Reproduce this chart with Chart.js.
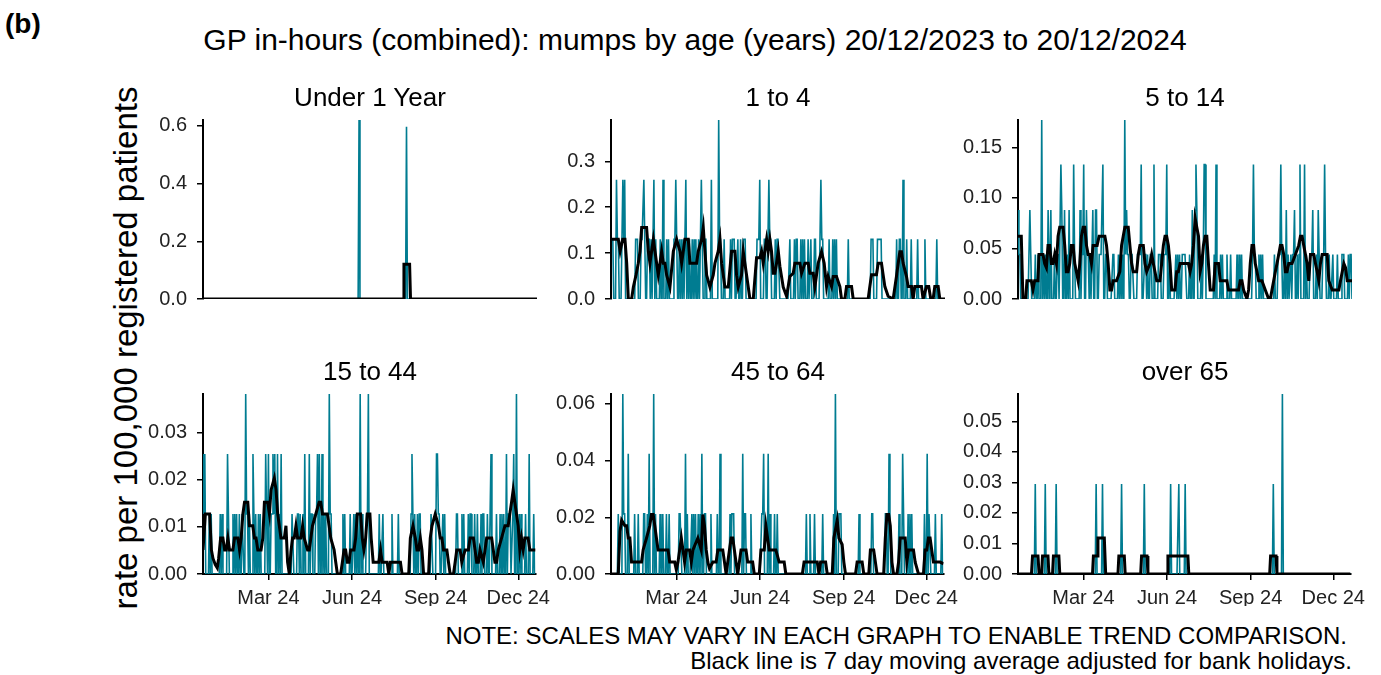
<!DOCTYPE html>
<html><head><meta charset="utf-8">
<script src="https://cdn.jsdelivr.net/npm/chart.js"></script>
<style>
html,body{margin:0;padding:0;background:#fff;}
body{width:1381px;height:675px;position:relative;overflow:hidden;font-family:"Liberation Sans",Arial,sans-serif;color:#000;}
.t{position:absolute;white-space:nowrap;line-height:1;}
canvas{position:absolute;}
</style></head><body>
<div class="t" style="left:5px;top:10px;font-size:28px;font-weight:bold;">(b)</div>
<div class="t" style="left:695px;top:40px;font-size:30px;transform:translate(-50%,-50%);">GP in-hours (combined): mumps by age (years) 20/12/2023 to 20/12/2024</div>
<div class="t" style="left:125px;top:348px;font-size:33px;transform:translate(-50%,-50%) rotate(-90deg);">rate per 100,000 registered patients</div>
<div class="t" style="right:34px;top:636px;font-size:24px;transform:translateY(-50%);">NOTE: SCALES MAY VARY IN EACH GRAPH TO ENABLE TREND COMPARISON.</div>
<div class="t" style="right:29px;top:661px;font-size:24px;transform:translateY(-50%);">Black line is 7 day moving average adjusted for bank holidays.</div>
<script>
// Daily series start 20/12/2023 (day 0) and end 20/12/2024 (day 366)
const xTickDays = [72, 164, 256, 347];
const xTickLabels = ['Mar 24', 'Jun 24', 'Sep 24', 'Dec 24'];
const panelTitles = ['Under 1 Year', '1 to 4', '5 to 14', '15 to 44', '45 to 64', 'over 65'];

const rateUnder1 = [
0,0,0,0,0,0,0, 0,0,0,0,0,0,0, 0,0,0,0,0,0,0, 0,0,0,0,0,0,0, 0,0,0,0,0,0,0,
0,0,0,0,0,0,0, 0,0,0,0,0,0,0, 0,0,0,0,0,0,0, 0,0,0,0,0,0,0, 0,0,0,0,0,0,0,
0,0,0,0,0,0,0, 0,0,0,0,0,0,0, 0,0,0,0,0,0,0, 0,0,0,0,0,0,0, 0,0,0,0,0,0,0,
0,0,0,0,0,0,0, 0,0,0,0,0,0,0, 0,0,0,0,0,0,0, 0,0,0,0,0,0,0, 0,0,0,0,0,0,0,
0,0,0,0,0,0,0, 0,0,0,0,0,0,0, 0,0,0,0,0,0,0, 0,0,0,0,0,0,0,
0,0,0,.62,0,0,0,
0,0,0,0,0,0,0, 0,0,0,0,0,0,0, 0,0,0,0,0,0,0, 0,0,0,0,0,0,0, 0,0,0,0,0,0,0, 0,0,0,0,0,0,0,
0,0,0,0,0,0,.597,
0,0,0,0,0,0,0, 0,0,0,0,0,0,0, 0,0,0,0,0,0,0, 0,0,0,0,0,0,0, 0,0,0,0,0,0,0,
0,0,0,0,0,0,0, 0,0,0,0,0,0,0, 0,0,0,0,0,0,0, 0,0,0,0,0,0,0, 0,0,0,0,0,0,0,
0,0,0,0,0,0,0, 0,0,0,0,0,0,0, 0,0,0,0,0,0,0, 0,0,0,0,0,0,0, 0,0,0,0,0,0,0,
0,0,0,0,0,0,0, 0,0,0,0,0,0,0, 0,0,0,0,0,0,0, 0,0,0,0,0,0,0, 0,0,0,0,0,0,0,
0,0,0
];
const rate1to4 = [
.13,.13,.13,0,0,0,.26, .13,.13,0,0,0,0,.26, .13,.26,0,0,0,0,0, 0,0,0,0,0,0,.13,
.13,.13,0,0,0,.13,.13, .13,.26,.13,0,0,.13,.13, .13,0,.13,0,0,.26,0, .13,0,0,0,0,.13,0,
0,.26,0,0,0,.13,0, .13,0,0,0,0,0,.13, .13,.26,.13,0,0,.13,0, .13,0,.13,0,0,.26,0,
.13,0,.13,0,0,.13,0, .13,0,.13,0,0,.13,0, .13,.26,.13,0,0,.13,.13, 0,0,0,0,0,.26,0,
0,0,0,0,0,0,.39, .13,.13,0,0,0,.13,0, 0,0,0,0,0,.13,0, .13,.13,.13,0,0,0,.13,
0,0,.13,0,0,.13,.13, .13,0,0,0,0,0,0, 0,0,0,0,0,0,.13, .13,.13,.26,0,0,0,0,
.13,.13,0,0,0,.26,.13, .13,0,0,0,0,.13,0, .13,.13,.13,0,0,0,0, 0,0,0,0,0,0,0,
.13,0,0,0,0,.13,0, .13,.13,0,0,0,.13,0, .13,0,.13,0,0,0,.13, 0,0,.13,0,0,0,.13,
.13,0,0,0,0,0,.26, .13,.13,0,0,0,0,0, 0,.13,0,0,0,.13,0, .13,0,.13,0,0,0,0,
0,0,0,0,0,0,0, 0,.13,0,0,0,0,0, 0,0,0,0,0,0,0, 0,0,0,0,0,0,0,
0,0,0,0,0,.13,.13, .13,0,0,0,0,.13,.13, .13,.13,.13,0,0,0,0, 0,0,0,0,0,0,0,
0,0,0,0,0,.13,0, 0,.13,.13,0,0,.26,0, 0,0,.13,0,0,0,0, .13,0,0,0,0,0,0,
.13,0,0,0,0,0,0, 0,.13,0,0,0,0,0, 0,0,0,0,0,0,0, .13,0,0,0,0,0,0,
0,0,0
];
const rate5to14 = [
.088,.044,.044,0,0,0,0, 0,0,0,0,0,0,.088, .044,0,0,0,0,.044,0, 0,.044,0,0,0,.177,0,
.044,0,.044,0,0,.088,0, .044,.088,0,0,0,.044,0, 0,.044,.044,0,0,.133,.088, 0,0,.088,0,0,.044,0,
.088,0,0,0,0,.133,.044, 0,0,0,0,0,.088,0, .044,.044,.133,0,0,.088,.044, .044,0,.044,0,0,.088,0,
0,.088,.088,0,0,.044,.044, .044,.044,.133,0,0,.044,.044, 0,0,0,0,0,0,.044, .044,0,0,0,0,.044,0,
.044,0,.044,0,0,.177,.044, .088,.044,.044,0,0,.044,.044, .044,0,0,0,0,.044,.044, .044,.044,.133,0,0,0,.044,
.044,0,.044,0,0,.044,.044, 0,0,.133,0,0,0,0, .044,.044,.044,0,0,0,.044, .044,.044,.133,0,0,.044,0,
0,0,0,0,0,.044,0, .044,0,.044,0,0,.044,.044, .044,.044,.044,0,0,0,.044, 0,0,.088,0,0,.088,.133,
.088,0,0,0,0,.044,0, .044,.133,.133,0,0,0,0, 0,0,0,0,0,.044,0, .133,0,0,0,0,.044,0,
.044,0,0,0,0,.044,0, 0,0,.044,0,0,0,0, 0,0,.044,0,0,.044,0, .044,0,0,0,0,0,0,
0,0,0,0,0,.044,.133, .044,.044,0,0,0,.044,0, .044,0,.044,0,0,0,0, 0,0,0,0,0,0,0,
0,.044,0,0,0,.044,.044, .044,.133,.044,0,0,.044,0, .088,0,.044,0,0,.044,0, .044,.044,.088,0,0,.044,0,
.044,.133,0,0,0,0,.133, 0,.044,0,0,0,.044,.044, .044,.088,0,0,0,.044,0, .088,.044,0,0,0,.044,.044,
.133,.044,0,0,0,.044,0, 0,0,.044,0,0,0,0, .044,0,0,0,0,.044,.044, .044,0,0,0,0,.044,0,
.044,.044,0
];
const rate15to44 = [
.0254,.0127,.0254,0,0,0,0, .0127,0,.0127,0,0,0,0, 0,0,0,0,0,.0127,0, .0127,0,0,0,0,0,.0254,
.0127,0,0,0,0,.0127,0, .0127,0,.0127,0,0,.0127,0, 0,.0127,.0127,0,0,.0381,.0127, .0127,0,.0127,0,0,0,.0254,
.0127,0,.0127,0,0,.0127,0, .0127,0,0,0,0,0,.0254, .0127,0,.0254,0,0,.0127,.0127, .0254,.0127,.0254,0,0,.0254,0,
.0127,0,.0254,0,0,0,0, 0,0,0,0,0,0,0, .0127,.0127,0,0,0,0,.0127, .0127,0,.0127,0,0,.0127,0,
.0254,0,0,0,0,.0254,0, .0127,.0127,0,0,0,.0127,.0127, .0254,0,.0254,0,0,.0254,0, .0127,0,.0127,0,0,0,.0381,
.0127,.0127,0,0,0,0,0, 0,0,0,0,0,0,0, .0127,0,.0127,0,0,0,0, 0,.0127,0,0,0,.0127,0,
.0127,0,.0127,0,0,.0381,0, .0127,0,0,0,0,.0127,.0127, .0381,0,0,0,0,0,0, 0,0,0,0,0,.0127,0,
0,0,.0127,0,0,0,0, 0,0,0,0,0,.0127,0, 0,0,0,0,0,.0127,0, 0,0,0,0,0,0,0,
0,0,0,0,0,.0127,.0254, .0127,0,.0127,0,0,.0127,0, .0127,.0127,0,0,0,0,0, 0,0,0,0,0,0,.0127,
.0127,0,0,0,0,.0254,.0254, .0127,.0127,0,0,0,.0127,0, .0127,0,0,0,0,0,0, 0,0,0,0,0,0,.0127,
.0127,0,0,0,0,.0127,0, .0127,0,0,0,0,.0127,0, .0127,.0127,0,0,0,.0127,0, 0,.0127,0,0,0,.0127,0,
.0127,.0127,0,0,0,.0127,0, 0,.0127,.0254,0,0,0,0, 0,.0127,0,0,0,.0127,0, .0127,0,.0127,0,0,.0254,0,
.0127,.0127,.0127,0,0,.0127,.0254, 0,0,.0381,0,0,.0127,0, .0127,0,0,0,0,.0127,0, 0,0,.0254,0,0,0,0,
.0127,0,0
];
const rate45to64 = [
0,0,0,0,0,0,0, 0,.0212,0,0,0,0,.0635, .0212,.0212,0,0,0,.0424,0, 0,0,0,0,0,.0212,0,
0,0,.0212,0,0,0,0, 0,.0212,.0212,0,0,.0212,0, .0424,0,0,0,0,.0635,0, .0212,0,0,0,0,.0212,0,
0,.0212,0,0,0,.0212,0, 0,.0212,0,0,0,0,0, 0,0,0,0,0,.0212,.0212, .0212,0,0,0,0,.0424,0,
.0212,0,0,0,0,.0212,0, .0212,0,.0212,0,0,.0212,0, .0212,0,.0424,0,0,.0212,.0212, 0,0,0,0,0,.0212,0,
0,0,0,0,0,.0212,0, 0,.0424,0,0,0,0,0, 0,0,0,0,0,.0212,0, .0212,.0212,.0212,0,0,0,0,
0,0,0,0,0,.0424,0, .0212,.0212,0,0,0,0,0, .0212,0,0,0,0,0,0, 0,0,0,0,0,.0212,.0212,
.0424,0,0,0,0,.0424,0, .0212,0,0,0,0,.0212,0, 0,.0212,0,0,0,0,0, 0,0,0,0,0,0,0,
0,0,0,0,0,0,0, 0,0,0,0,0,0,0, 0,0,0,0,0,.0212,0, 0,0,.0212,0,0,0,0,
.0212,0,0,0,0,0,0, 0,0,.0212,0,0,0,0, 0,0,0,0,0,0,0, .0212,0,.0635,0,0,0,.0212,
.0212,.0212,0,0,0,0,0, 0,0,0,0,0,0,0, 0,0,0,0,0,0,0, .0212,0,0,0,0,0,0,
0,0,0,0,0,0,0, .0212,.0212,0,0,0,0,0, 0,0,0,0,0,0,0, 0,.0212,.0212,0,0,.0424,.0212,
0,0,0,0,0,0,0, 0,0,.0212,0,0,0,.0424, .0212,0,0,0,0,.0212,0, .0212,0,.0212,0,0,0,0,
0,0,0,0,0,0,0, 0,0,.0212,0,0,.0424,0, .0212,.0212,0,0,0,0,0, .0212,0,0,0,0,0,0,
.0212,0,0
];
const rateOver65 = [
0,0,0,0,0,0,0, 0,0,0,0,0,0,0, 0,0,0,0,0,.0295,0, 0,0,0,0,0,0,0,
0,0,.0295,0,0,0,0, 0,0,0,0,0,0,0, .0295,0,0,0,0,0,0, 0,0,0,0,0,0,0,
0,0,0,0,0,0,0, 0,0,0,0,0,0,0, 0,0,0,0,0,0,0, 0,0,0,0,0,0,0,
0,0,.0295,0,0,0,0, 0,0,.0295,0,0,0,0, 0,0,0,0,0,0,0, 0,0,0,0,0,0,0,
0,0,.0295,0,0,0,0, 0,0,0,0,0,0,0, 0,0,0,0,0,0,0, 0,0,0,0,0,0,.0295,
0,0,0,0,0,0,0, 0,0,0,0,0,0,0, 0,0,0,0,0,0,0, 0,0,0,0,0,0,0,
.0295,0,0,0,0,0,0, 0,0,.0295,0,0,0,0, 0,0,.0295,0,0,0,0, 0,0,0,0,0,0,0,
0,0,0,0,0,0,0, 0,0,0,0,0,0,0, 0,0,0,0,0,0,0, 0,0,0,0,0,0,0,
0,0,0,0,0,0,0, 0,0,0,0,0,0,0, 0,0,0,0,0,0,0, 0,0,0,0,0,0,0,
0,0,0,0,0,0,0, 0,0,0,0,0,0,0, 0,0,0,0,0,0,0, 0,0,0,0,0,0,0,
0,.0295,0,0,0,0,0, 0,0,0,0,.059,0,0, 0,0,0,0,0,0,0, 0,0,0,0,0,0,0,
0,0,0,0,0,0,0, 0,0,0,0,0,0,0, 0,0,0,0,0,0,0, 0,0,0,0,0,0,0,
0,0,0,0,0,0,0, 0,0,0,0,0,0,0, 0,0,0,0,0,0,0, 0,0,0,0,0,0,0,
0,0,0
];

// 7 day moving average, [day, value]
const ma7Under1 = [[0,0],[219.2,0],[220.2,.12],[226.4,.12],[227.4,0],[366,0]];
const ma71to4 = [[0,.13],[8,.13],[10,.104],[12.8,.13],[15.3,.13],[17.2,.078],[19,0],[22.6,0],[24.5,.026],[27.4,.052],[29.9,.078],[31.8,.104],[33.6,.156],[39,.156],[40.9,.104],[42.7,.078],[44.5,.104],[46.4,.13],[48.2,.104],[50,.078],[51.8,.052],[53.7,.078],[55.5,.104],[57.3,.078],[59.1,.078],[61,.052],[64.6,.026],[68.3,.104],[71.9,.13],[75.6,.104],[77.4,.078],[81,.13],[84.7,.13],[86.5,.078],[93.8,.078],[95.6,.104],[99.3,.13],[101.1,.156],[102.9,.104],[104.8,.052],[108.4,.026],[112,.052],[113.9,.078],[117.5,.104],[119.4,.13],[121.2,.078],[124.8,.026],[128.5,.026],[132.1,.104],[135.8,.104],[137.6,.052],[139.4,.026],[143,.052],[144.9,.104],[146.7,.078],[150.4,.026],[152.2,0],[155.9,0],[159.5,.09],[163.2,.09],[165,.104],[166.8,.078],[168.6,.104],[170.5,.13],[172.3,.104],[174.1,.13],[175.9,.104],[177.8,.056],[179.6,.056],[181.4,.078],[183.3,.104],[185.1,.071],[188.7,.026],[192.4,.006],[196,.049],[199.7,.056],[201.5,.078],[207,.078],[208.8,.056],[212.5,.078],[216.1,.078],[217.9,.056],[221.6,.056],[223.4,.026],[227,.078],[230.7,.103],[233.6,.078],[236.2,.027],[238,.049],[241.7,.027],[243.5,.049],[247.1,.049],[250.8,.027],[252.6,0],[256.3,0],[258.1,.027],[263.6,.027],[265.4,0],[281.8,0],[283.6,.027],[285.5,.053],[290.9,.053],[292.8,.078],[296.4,.078],[298.2,.053],[300.1,.027],[303.7,.006],[309.2,0],[312.8,.049],[314.7,.078],[316.5,.103],[318.3,.103],[320.1,.078],[323.8,.049],[325.6,.027],[329.3,.027],[331.1,0],[332.9,.027],[340.2,.027],[342,0],[345.7,.027],[348.2,.027],[350.4,0],[353,0],[354.8,.027],[358.5,.027],[360.3,0],[366,0]];
const ma75to14 = [[0,.062],[3.6,.062],[5.4,0],[8.4,0],[9.8,.018],[14.6,.018],[16.4,.009],[18.2,.018],[21.9,.018],[23,.044],[27.4,.044],[29.2,.035],[31.1,.031],[32.9,.053],[34.7,.053],[36.6,.035],[38.4,.035],[40.2,.044],[42.1,.035],[43.9,.062],[45.7,.071],[49.4,.071],[51.2,.053],[53,.027],[54.9,.027],[56.7,.035],[58.5,.053],[60.4,.053],[62.2,.035],[64,.027],[65.9,.018],[67.7,.035],[69.5,.062],[71.4,.071],[73.2,.071],[75,.053],[76.9,.044],[78.7,.044],[80.5,.035],[82.3,.053],[86.7,.053],[88.9,.062],[95.2,.062],[97,.053],[98.8,.035],[100.7,.009],[102.5,.009],[104.3,.018],[108,.018],[111.6,.027],[113.5,.053],[115.3,.062],[117.1,.071],[120.8,.071],[122.6,.053],[124.5,.035],[126.3,.027],[130,.027],[131.8,.044],[133.6,.053],[137.3,.053],[139.1,.035],[141,.027],[144.6,.035],[146.5,.044],[148.3,.035],[150.1,.027],[152,.018],[155.6,.018],[157.4,.035],[159.3,.053],[161.1,.062],[162.9,.062],[164.8,.053],[166.6,.035],[168.4,.009],[172.1,.009],[173.9,.027],[175.7,.027],[177.6,.035],[186.8,.035],[188.6,.027],[190.4,.035],[192.3,.053],[194.1,.08],[195.9,.071],[197.8,.062],[199.6,.027],[201.4,.035],[203.2,.053],[205.1,.062],[206.9,.062],[208.7,.035],[210.6,.009],[214.2,.009],[216.1,.035],[219.7,.035],[221.6,.018],[228.9,.018],[230.7,.009],[241.7,.009],[243.5,.018],[245.4,.018],[247.2,.009],[250.9,0],[252.7,.009],[254.5,.035],[256.4,.053],[258.2,.053],[260,.035],[261.9,.027],[263.7,.018],[267.3,.018],[271,.009],[274.7,0],[276.5,0],[278.3,.009],[282,.027],[283.8,.035],[285.7,.044],[287.5,.053],[289.3,.053],[291.2,.044],[293,.027],[294.8,.027],[296.7,.035],[300.3,.035],[304,.044],[307.6,.053],[309.5,.062],[311.3,.062],[313.1,.053],[315,.044],[316.8,.035],[318.6,.018],[320.5,.044],[324.1,.044],[326,.035],[327.8,.027],[329.6,.018],[331.4,.035],[333.3,.044],[338.8,.044],[340.6,.018],[344.3,.009],[351.6,.009],[353.4,.018],[355.3,.027],[357.1,.035],[358.9,.031],[360.8,.018],[366,.018]];
const ma715to44 = [[0,.0051],[1.1,.0051],[2.6,.0127],[7.3,.0127],[9.2,.0051],[11,.0033],[13.5,.002],[15.7,.0013],[17.2,.0033],[19.4,.0076],[21.9,.0076],[23.8,.0051],[25.6,.0051],[27.4,.0076],[29.2,.0051],[32.9,.0051],[34.7,.0076],[38.4,.0076],[40.2,.0051],[42,.0076],[43.9,.0127],[45.7,.0152],[49.3,.0152],[51.1,.0102],[54.8,.0102],[56.6,.0076],[58.4,.0076],[60.3,.0051],[63.9,.0051],[65.8,.0076],[67.6,.0152],[71.2,.0152],[73.1,.0127],[74.9,.0178],[78.5,.0203],[80.4,.0178],[82.2,.0127],[84,.0102],[85.8,.0076],[89.5,.0076],[91.3,.0102],[93.1,.0025],[95,0],[96.8,.0048],[98.6,.0076],[100.4,.0076],[102.3,.0102],[104.1,.0076],[107.7,.0076],[109.6,.0102],[111.4,.0076],[115.1,.0051],[116.9,.0051],[118.7,.0076],[120.5,.0102],[124.2,.0127],[127.8,.0152],[129.6,.0152],[131.5,.0127],[136.9,.0127],[138.8,.0102],[140.6,.0076],[144.3,.0051],[146.1,.0025],[147.9,0],[151.5,0],[153.4,.0025],[155.2,.0051],[157,.0051],[158.9,.0025],[160.7,.0025],[162.5,.0051],[166.2,.0051],[168,.0076],[169.8,.0127],[173.5,.0127],[175.3,.0076],[177.1,.0051],[179,.0076],[180.8,.0127],[183.7,.0127],[185.1,.0076],[187.3,.0025],[193.5,.0025],[195.4,.0051],[197.2,.0025],[202.7,.0025],[204.5,0],[206.3,.0025],[217.3,.0025],[219.1,0],[226.4,0],[228.2,.0076],[231.1,.0102],[233.7,.0076],[235.5,.0051],[237.3,.0051],[239.2,.0076],[241,.0051],[242.8,0],[248.3,0],[250.1,.0076],[252,.0102],[255.6,.0127],[259.2,.0102],[261.1,.0076],[262.9,.0076],[264.7,.0051],[268.4,.0051],[270.2,.0025],[272,0],[275.7,0],[277.5,.0025],[279.3,.0051],[283,.0051],[284.8,.0025],[288.5,.0051],[292.1,.0051],[293.9,.0076],[297.6,.0076],[299.4,.0051],[301.2,.0025],[303.1,.0025],[304.9,.0051],[308.5,.0025],[310.4,.0051],[312.2,.0076],[317.7,.0076],[319.5,.0051],[321.3,.0025],[323.1,.0025],[325,.0051],[328.6,.0076],[332.3,.0102],[335.9,.0102],[337.7,.0127],[339.6,.0152],[341.4,.0178],[343.2,.0152],[345,.0127],[346.9,.0102],[348.7,.0051],[350.5,.0076],[352.4,.0051],[354.2,.0076],[357.8,.0076],[359.7,.0051],[366,.0051]];
const ma745to64 = [[0,0],[8,0],[9.9,.015],[11.7,.019],[15.3,.017],[17.2,.017],[19,.0127],[20.8,.0127],[22.6,.0042],[33.6,.0042],[35.4,.0085],[39.1,.0127],[42.7,.017],[44.5,.021],[46.4,.021],[48.2,.017],[50,.0127],[51.8,.0085],[62.8,.0085],[64.6,.0042],[70.1,.0042],[71.9,.0015],[73.7,.0042],[77.4,.0127],[79.2,.0085],[81,.0042],[82.9,.0085],[86.5,.0085],[88.4,.0042],[90.2,.0085],[95.6,.0127],[99.3,.0085],[101.1,.021],[102.9,.017],[104.8,.0085],[106.6,.0042],[108.4,.002],[112.1,.0042],[115.7,.0042],[117.6,.0085],[123,.0085],[124.9,.0042],[126.7,0],[128.5,.0042],[132.2,.0127],[134,.0127],[135.8,.0085],[137.6,.0042],[139.5,0],[141.3,.0042],[143.1,.0085],[148.6,.0085],[150.4,.0042],[155.9,.0042],[157.7,0],[163.2,0],[165,.0085],[168.7,.0085],[170.5,.017],[172.3,.0127],[174.1,.0085],[181.4,.0085],[185.1,.0042],[190.6,.0042],[192.4,0],[210.6,0],[212.5,.0042],[227,.0042],[228.9,0],[230.7,.0042],[236.2,.0042],[238,0],[243.5,0],[245.3,.0127],[249,.019],[250.8,.0127],[254.4,.0104],[256.3,.0042],[258.1,0],[269.1,0],[270.9,.0042],[276.4,.0042],[278.2,0],[283.7,0],[285.5,.0085],[289.1,.0085],[291,.0042],[292.8,0],[300.1,0],[301.9,.0127],[303.7,.021],[305.6,.021],[307.4,.017],[309.2,.0042],[311,0],[314.7,0],[316.5,.0042],[318.3,.0127],[323.8,.0127],[325.6,.0042],[327.5,.0085],[332.9,.0085],[334.8,.0042],[338.4,0],[343.9,0],[345.7,.0085],[347.5,.0085],[349.4,.0127],[351.2,.0127],[353,.0085],[354.9,.0042],[362.2,.0042],[366,.0036]];
const ma7Over65 = [[0,0],[14.8,0],[16,.0059],[22,.0059],[23.2,0],[26,0],[27,.0059],[33,.0059],[34,0],[38,0],[39,.0059],[45,.0059],[46,0],[82,0],[83,.0059],[87,.0059],[88,.0118],[95,.0118],[96.5,0],[110,0],[111,.0059],[117,.0059],[118,0],[135,0],[136,.0059],[142,.0059],[143,0],[164,0],[165,.0059],[187,.0059],[188,0],[277,0],[278,.0059],[284,.0059],[285,0],[366,0]];

const yTicksUnder1 = [0, .2, .4, .6];
const yTicks1to4 = [0, .1, .2, .3];
const yTicks5to14 = [0, .05, .1, .15];
const yTicks15to44 = [0, .01, .02, .03];
const yTicks45to64 = [0, .02, .04, .06];
const yTicksOver65 = [0, .01, .02, .03, .04, .05];
const yTickDecimals = [1, 1, 2, 2, 2, 2];

const panels = [
  {teal: rateUnder1, ma: ma7Under1, yTicks: yTicksUnder1},
  {teal: rate1to4, ma: ma71to4, yTicks: yTicks1to4},
  {teal: rate5to14, ma: ma75to14, yTicks: yTicks5to14},
  {teal: rate15to44, ma: ma715to44, yTicks: yTicks15to44},
  {teal: rate45to64, ma: ma745to64, yTicks: yTicks45to64},
  {teal: rateOver65, ma: ma7Over65, yTicks: yTicksOver65}
];

const FONT = "'Liberation Sans', Arial, sans-serif";
const colLeft = [203, 611, 1018];
const plotW = 334;
const rowTop = [120, 394];
const plotH = [179, 180];
const YW = 70, PT = 24, PR = 20, XH = 32;

panels.forEach((p, i) => {
  const col = i % 3, row = Math.floor(i / 3);
  const bottomRow = row === 1;
  const cw = YW + plotW + PR;
  const ch = PT + plotH[row] + (bottomRow ? XH : PT);
  const cv = document.createElement('canvas');
  cv.width = cw; cv.height = ch;
  cv.style.left = (colLeft[col] - YW) + 'px';
  cv.style.top = (rowTop[row] - PT) + 'px';
  cv.style.width = cw + 'px'; cv.style.height = ch + 'px';
  document.body.appendChild(cv);

  const tt = document.createElement('div');
  tt.className = 't';
  tt.textContent = panelTitles[i];
  tt.style.fontSize = '26px';
  tt.style.left = (colLeft[col] + plotW / 2) + 'px';
  tt.style.top = (rowTop[row] - 23) + 'px';
  tt.style.transform = 'translate(-50%,-50%)';
  document.body.appendChild(tt);

  const yMax = Math.max(...p.teal);
  const dec = yTickDecimals[i];
  new Chart(cv.getContext('2d'), {
    type: 'line',
    data: {
      datasets: [
        {data: p.ma.map(q => ({x: q[0], y: q[1]})), borderColor: '#000', borderWidth: 3, pointRadius: 0, fill: false, tension: 0},
        {data: p.teal.map((v, d) => ({x: d, y: v})), borderColor: '#007C91', borderWidth: 1.6, pointRadius: 0, fill: false, tension: 0}
      ]
    },
    options: {
      responsive: false, animation: false, devicePixelRatio: 1, events: [],
      layout: {padding: {top: PT, right: PR, bottom: bottomRow ? 0 : PT, left: 0}},
      plugins: {legend: {display: false}, tooltip: {enabled: false}},
      scales: {
        x: {
          type: 'linear', min: 0, max: 366, display: bottomRow,
          afterBuildTicks: ax => { ax.ticks = xTickDays.map(v => ({value: v})); },
          afterFit: ax => { if (bottomRow) ax.height = XH; },
          grid: {display: true, drawOnChartArea: false, drawTicks: true, tickLength: 6, color: '#000', lineWidth: 1.5},
          border: {display: true, color: '#000', width: 2},
          ticks: {callback: v => xTickLabels[xTickDays.indexOf(v)], font: {family: FONT, size: 20}, color: '#222', padding: 6, maxRotation: 0, autoSkip: false}
        },
        y: {
          type: 'linear', min: 0, max: yMax,
          afterBuildTicks: ax => { ax.ticks = p.yTicks.map(v => ({value: v})); },
          afterFit: ax => { ax.width = YW; },
          grid: {display: true, drawOnChartArea: false, drawTicks: true, tickLength: 6, color: '#000', lineWidth: 1.5},
          border: {display: true, color: '#000', width: 2},
          ticks: {callback: v => Number(v).toFixed(dec), font: {family: FONT, size: 20}, color: '#222', padding: 10}
        }
      }
    }
  });
});
</script>
</body></html>
